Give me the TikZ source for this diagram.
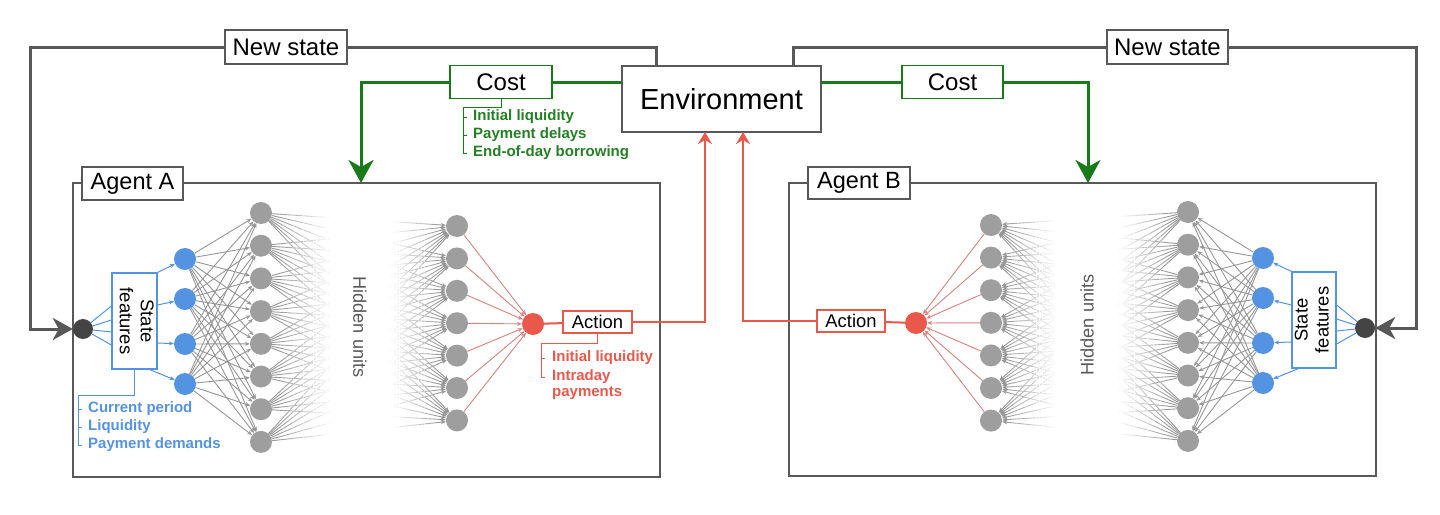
\documentclass[tikz,border=0pt]{standalone}
\usepackage{fontspec}
\setmainfont{Liberation Sans}
\usetikzlibrary{arrows.meta,calc}
\definecolor{cgreen}{RGB}{24,122,24}
\definecolor{cgreentxt}{RGB}{36,128,36}
\definecolor{cred}{RGB}{234,88,76}
\definecolor{credge}{RGB}{212,130,126}
\definecolor{cblue}{RGB}{84,146,226}
\definecolor{cgray}{RGB}{158,158,158}
\definecolor{cgedge}{RGB}{150,150,150}
\definecolor{cdark}{RGB}{68,68,68}
\definecolor{cline}{RGB}{88,88,88}
\definecolor{chid}{RGB}{90,90,90}
\pgfdeclarelayer{bg}
\pgfsetlayers{bg,main}
\newcommand{\fsz}[1]{\fontsize{#1pt}{#1pt}\selectfont}
\tikzset{
  lbl/.style={draw=cline, line width=1.3pt, fill=white, inner sep=0pt, text=black},
  agentbox/.style={draw=cline, line width=1.5pt, inner sep=0pt},
  nsline/.style={draw=cline, line width=3pt},
  bigtip/.style={-{Stealth[length=20pt,width=22pt,inset=6pt]}},
  gtip/.style={-{Stealth[length=23pt,width=25pt,inset=7pt]}},
  rtip/.style={-{Stealth[length=12pt,width=14pt,inset=4pt]}},
  gline/.style={draw=cgreen, line width=3pt},
  rline/.style={draw=cred, line width=2pt},
  gnode/.style={circle, fill=cgray, minimum size=22pt, inner sep=0pt},
  bnode/.style={circle, fill=cblue, minimum size=22pt, inner sep=0pt},
  rnode/.style={circle, fill=cred, minimum size=22pt, inner sep=0pt},
  dnode/.style={circle, fill=cdark, minimum size=20pt, inner sep=0pt},
  gedge/.style={draw=cgedge, line width=0.9pt, -{Stealth[length=5pt,width=4pt]}},
  redge/.style={draw=credge, line width=0.9pt, -{Stealth[length=5pt,width=4pt]}},
  bedge/.style={draw=cblue, line width=1pt},
  barrow/.style={draw=cblue, line width=1pt, -{Stealth[length=5pt,width=4pt]}},
  listtxt/.style={anchor=west, inner sep=0pt, font=\fsz{15}\bfseries, align=left},
  brk/.style={line width=1pt},
}
\begin{document}
\begin{tikzpicture}[x=1pt,y=-1pt]
\useasboundingbox (0,0) rectangle (1440,514);

% ---------- agent boxes ----------
\node[agentbox, minimum width=587pt, minimum height=294pt] (agentA) at (366.5,330) {};
\node[agentbox, minimum width=587pt, minimum height=293pt] (agentB) at (1082.5,329.5) {};
\node[lbl, minimum width=101pt, minimum height=33pt, font=\fsz{23.5}] (labA) at (132.5,183.5) {Agent A};
\node[lbl, minimum width=102pt, minimum height=32pt, font=\fsz{23.5}] (labB) at (859,183) {Agent B};

% ---------- environment and top labels ----------
\node[lbl, minimum width=199pt, minimum height=66pt, font=\fsz{29}] (env) at (721.5,99) {Environment};
\node[lbl, minimum width=122pt, minimum height=34pt, font=\fsz{24}] (nsA) at (286,47) {New state};
\node[lbl, minimum width=121pt, minimum height=34pt, font=\fsz{24}] (nsB) at (1167.5,47) {New state};
\node[lbl, draw=cgreen, line width=1.2pt, minimum width=102pt, minimum height=33pt, font=\fsz{24}] (costA) at (501,82) {Cost};
\node[lbl, draw=cgreen, line width=1.2pt, minimum width=101pt, minimum height=33pt, font=\fsz{24}] (costB) at (952.5,82) {Cost};

\coordinate (nsAtop) at (656,47);
\coordinate (nsAcorner) at (30,47);
\coordinate (nsBtop) at (793,47);
\coordinate (nsBcorner) at (1416,47);
\coordinate (gA) at (361,183);
\coordinate (gB) at (1088,183);
\coordinate (rA) at (705,132);
\coordinate (rB) at (743,132);

% ---------- network A ----------
\node[dnode] (dA) at (83,329) {};
\node[draw=cblue, line width=1.2pt, minimum width=45pt, minimum height=96pt, inner sep=0pt] (sfA) at (134.5,321)
  {\rotatebox{-90}{\fontsize{18.4pt}{21pt}\selectfont\begin{tabular}{@{}c@{}}State\\features\end{tabular}}};
\foreach \j/\yy in {1/259,2/299,3/344,4/384} \node[bnode] (bA\j) at (185,\yy) {};
\foreach \j in {1,...,8} \node[gnode] (hAa\j) at (261,{213+32.7*(\j-1)}) {};
\foreach \j in {1,...,7} \node[gnode] (hAb\j) at (457,{226+32.4*(\j-1)}) {};
\node[rnode] (redA) at (533,324) {};
\node[lbl, draw=cred, line width=2pt, minimum width=69pt, minimum height=22pt, font=\fsz{18.4}] (actA) at (597.5,322) {Action};
\node[rotate=-90, font=\fsz{18.2}, text=chid] (hidA) at (360,327) {Hidden units};

% ---------- network B ----------
\node[dnode] (dB) at (1365,328) {};
\node[draw=cblue, line width=1.2pt, minimum width=44pt, minimum height=96pt, inner sep=0pt] (sfB) at (1314,320)
  {\rotatebox{90}{\fontsize{18.4pt}{21pt}\selectfont\begin{tabular}{@{}c@{}}State\\features\end{tabular}}};
\foreach \j/\yy in {1/258,2/298,3/343,4/383} \node[bnode] (bB\j) at (1263,\yy) {};
\foreach \j in {1,...,8} \node[gnode] (hBa\j) at (1188,{212+32.7*(\j-1)}) {};
\foreach \j in {1,...,7} \node[gnode] (hBb\j) at (991,{225+32.6*(\j-1)}) {};
\node[rnode] (redB) at (916,323) {};
\node[lbl, draw=cred, line width=2pt, minimum width=68pt, minimum height=22pt, font=\fsz{18.4}] (actB) at (851,321) {Action};
\node[rotate=90, font=\fsz{18.2}, text=chid] (hidB) at (1087,325) {Hidden units};

% ---------- lists ----------
\node[listtxt, text=cgreentxt] (cl1) at (473,117) {Initial liquidity};
\node[listtxt, text=cgreentxt] (cl2) at (473,135) {Payment delays};
\node[listtxt, text=cgreentxt] (cl3) at (473,153) {End-of-day borrowing};
\node[listtxt, text=cblue] (bl1) at (88,409) {Current period};
\node[listtxt, text=cblue] (bl2) at (88,427) {Liquidity};
\node[listtxt, text=cblue] (bl3) at (88,445) {Payment demands};
\node[listtxt, text=cred] (rl1) at (552,358) {Initial liquidity};
\node[listtxt, anchor=north west, text=cred, font=\fontsize{15pt}{16.5pt}\selectfont\bfseries] (rl2) at (552,369) {Intraday\\payments};

\draw[brk, draw=cgreen] (costA.south) -- ++(0,8) -| ($(cl3.west)+(-10,0)$) -- ++(4,0);
\draw[brk, draw=cgreen] ($(cl1.west)+(-10,0)$) -- ++(4,0);
\draw[brk, draw=cgreen] ($(cl2.west)+(-10,0)$) -- ++(4,0);
\draw[brk, draw=cblue] (sfA.south) -- ++(0,26) -| ($(bl3.west)+(-10,0)$) -- ++(4,0);
\draw[brk, draw=cblue] ($(bl1.west)+(-10,0)$) -- ++(4,0);
\draw[brk, draw=cblue] ($(bl2.west)+(-10,0)$) -- ++(4,0);
\draw[brk, draw=cred] (actA.south) -- ++(0,9) -| ($(rl2.north west)+(-11,8)$) -- ++(4,0);
\draw[brk, draw=cred] ($(rl1.west)+(-11,0)$) -- ++(4,0);

% ---------- main connectors ----------
\draw[nsline] (env.north -| nsAtop) -- (nsAtop) -- (nsA);
\draw[nsline, bigtip] (nsA) -- (nsAcorner) |- (dA);
\draw[nsline] (env.north -| nsBtop) -- (nsBtop) -- (nsB);
\draw[nsline, bigtip] (nsB) -- (nsBcorner) |- (dB);
\draw[gline] (env.west |- costA) -- (costA);
\draw[gline, gtip] (costA) -| (gA);
\draw[gline] (env.east |- costB) -- (costB);
\draw[gline, gtip] (costB) -| (gB);
\draw[rline] (redA) -- (actA);
\draw[rline, rtip] (actA) -| (rA);
\draw[rline] (actB) -- (redB);
\draw[rline, rtip] (actB) -| (rB);

% ---------- network edges (background) ----------
\begin{pgfonlayer}{bg}
  % A
  \draw[bedge] (dA) -- ($(sfA.west)+(0,-15)$);
  \draw[bedge] (dA) -- ($(sfA.west)+(0,-1)$);
  \draw[bedge] (dA) -- ($(sfA.west)+(0,11)$);
  \draw[bedge] (dA) -- ($(sfA.west)+(0,24)$);
  \draw[barrow] (sfA.north east) -- (bA1);
  \draw[barrow] ($(sfA.east)+(0,-16)$) -- (bA2);
  \draw[barrow] ($(sfA.east)+(0,22)$) -- (bA3);
  \draw[barrow] ($(sfA.south east)+(-8,0)$) -- (bA4);
  \foreach \i in {1,...,4} \foreach \j in {1,...,8} \draw[gedge] (bA\i) -- (hAa\j);
  \foreach \i in {1,...,8} \foreach \j in {1,...,7} \draw[gedge] (hAa\i) -- (hAb\j);
  \foreach \j in {1,...,7} \draw[redge] (hAb\j) -- (redA);
  % B
  \draw[bedge] (dB) -- ($(sfB.east)+(0,-15)$);
  \draw[bedge] (dB) -- ($(sfB.east)+(0,-1)$);
  \draw[bedge] (dB) -- ($(sfB.east)+(0,11)$);
  \draw[bedge] (dB) -- ($(sfB.east)+(0,24)$);
  \draw[barrow] (sfB.north west) -- (bB1);
  \draw[barrow] ($(sfB.west)+(0,-15)$) -- (bB2);
  \draw[barrow] ($(sfB.west)+(0,22)$) -- (bB3);
  \draw[barrow] ($(sfB.south west)+(7,0)$) -- (bB4);
  \foreach \i in {1,...,4} \foreach \j in {1,...,8} \draw[gedge] (bB\i) -- (hBa\j);
  \foreach \i in {1,...,8} \foreach \j in {1,...,7} \draw[gedge] (hBa\i) -- (hBb\j);
  \foreach \j in {1,...,7} \draw[redge] (hBb\j) -- (redB);
  % fading overlays
  \foreach \i in {0,...,15} {
    \pgfmathsetmacro{\op}{(\i+1)/16}
    \pgfmathsetmacro{\xa}{280+\i*53/16}
    \pgfmathsetmacro{\xb}{280+(\i+1)*53/16+0.4}
    \fill[white, opacity=\op] (\xa,196) rectangle (\xb,462);
    \pgfmathsetmacro{\opb}{(15.5-\i)/16}
    \pgfmathsetmacro{\xc}{390+\i*50/16}
    \pgfmathsetmacro{\xd}{390+(\i+1)*50/16+0.4}
    \fill[white, opacity=\opb] (\xc,196) rectangle (\xd,462);
    \pgfmathsetmacro{\xe}{1008+\i*50/16}
    \pgfmathsetmacro{\xf}{1008+(\i+1)*50/16+0.4}
    \fill[white, opacity=\op] (\xe,196) rectangle (\xf,462);
    \pgfmathsetmacro{\xg}{1118+\i*52/16}
    \pgfmathsetmacro{\xh}{1118+(\i+1)*52/16+0.4}
    \fill[white, opacity=\opb] (\xg,196) rectangle (\xh,462);
  }
  \fill[white] (333,196) rectangle (390.2,462);
  \fill[white] (1058,196) rectangle (1118.2,462);
\end{pgfonlayer}
\end{tikzpicture}
\end{document}
